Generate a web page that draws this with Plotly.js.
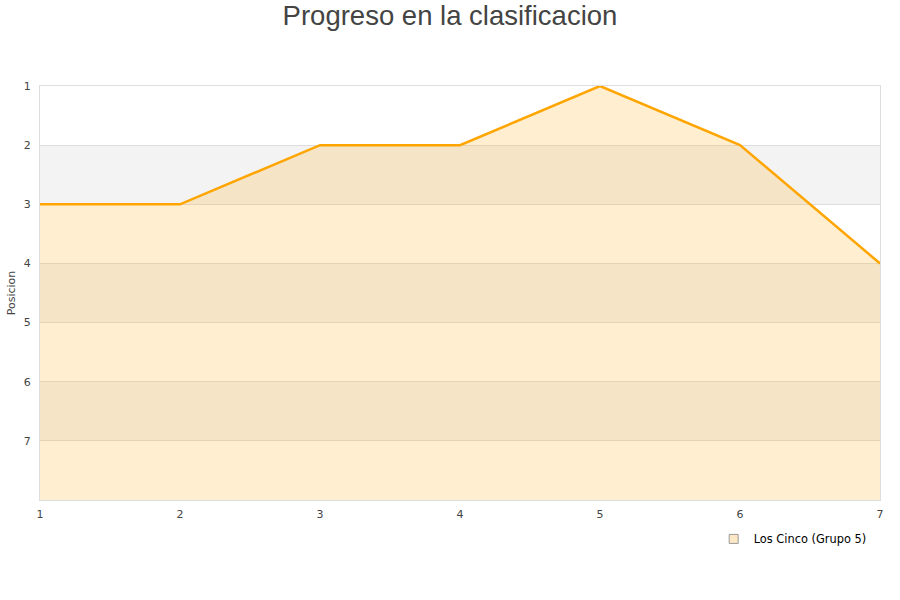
<!DOCTYPE html>
<html><head><meta charset="utf-8">
<script src="https://cdn.plot.ly/plotly-3.0.1.min.js"></script>
<style>html,body{margin:0;padding:0;background:#fff}</style>
</head><body>
<div id="chart" style="width:900px;height:600px"></div>
<script>
var jornadas = [1, 2, 3, 4, 5, 6, 7];
var posiciones = [3, 3, 2, 2, 1, 2, 4];
var yTicks = [1, 2, 3, 4, 5, 6, 7];
var yBottom = 8;
var seriesName = 'Los Cinco (Grupo 5)';
var chartTitle = 'Progreso en la clasificacion';
var yTitle = 'Posicion';

var baseline = jornadas.map(function(){ return yBottom; });

var traces = [
  {x: jornadas, y: baseline, mode: 'lines', line: {width: 0, color: 'rgba(0,0,0,0)'},
   showlegend: false, hoverinfo: 'skip'},
  {x: jornadas, y: posiciones, mode: 'lines', fill: 'tonexty',
   fillcolor: 'rgba(255,175,30,0.21)', line: {color: '#FFA500', width: 2.5},
   name: seriesName, showlegend: false},
  {x: [null], y: [null], mode: 'markers', name: seriesName,
   marker: {symbol: 'square', size: 9, color: '#FCE8C4', line: {color: '#999', width: 1}}}
];

var shapes = [];
for (var i = 0; i < yTicks.length; i++) {
  if (yTicks[i] % 2 === 0) {
    shapes.push({type: 'rect', xref: 'paper', yref: 'y', x0: 0, x1: 1,
      y0: yTicks[i], y1: yTicks[i] + 1, fillcolor: '#F3F3F3', line: {width: 0}, layer: 'below'});
  }
}

var layout = {
  width: 900, height: 600,
  margin: {l: 40, r: 20, t: 86, b: 100},
  paper_bgcolor: '#fff', plot_bgcolor: '#fff',
  font: {family: 'DejaVu Sans, sans-serif', size: 11, color: '#444'},
  title: {text: chartTitle, x: 0.5, xanchor: 'center', y: 0.975, yanchor: 'middle',
    font: {family: 'Liberation Sans, Arial, sans-serif', size: 27.5, color: '#444'}},
  xaxis: {range: [1, 7], tickvals: jornadas, showgrid: false, zeroline: false,
    showline: true, mirror: true, linecolor: '#DDDDDD', linewidth: 1,
    tickfont: {size: 11, color: '#444'}, ticklabelstandoff: 4},
  yaxis: {range: [yBottom, 1], tickvals: yTicks, showgrid: true, gridcolor: '#DDDDDD',
    zeroline: false, showline: true, mirror: true, linecolor: '#DDDDDD', linewidth: 1,
    tickfont: {size: 11, color: '#444'}, ticklabelstandoff: 6,
    title: {text: yTitle, font: {size: 11, color: '#444'}, standoff: 5}},
  shapes: shapes,
  showlegend: true,
  legend: {x: 0.802, xanchor: 'left', y: -0.094, yanchor: 'middle', bgcolor: 'rgba(0,0,0,0)',
    font: {size: 11.4, color: '#000'}, itemwidth: 30}
};

Plotly.newPlot('chart', traces, layout, {displayModeBar: false, staticPlot: true});
</script>
</body></html>
